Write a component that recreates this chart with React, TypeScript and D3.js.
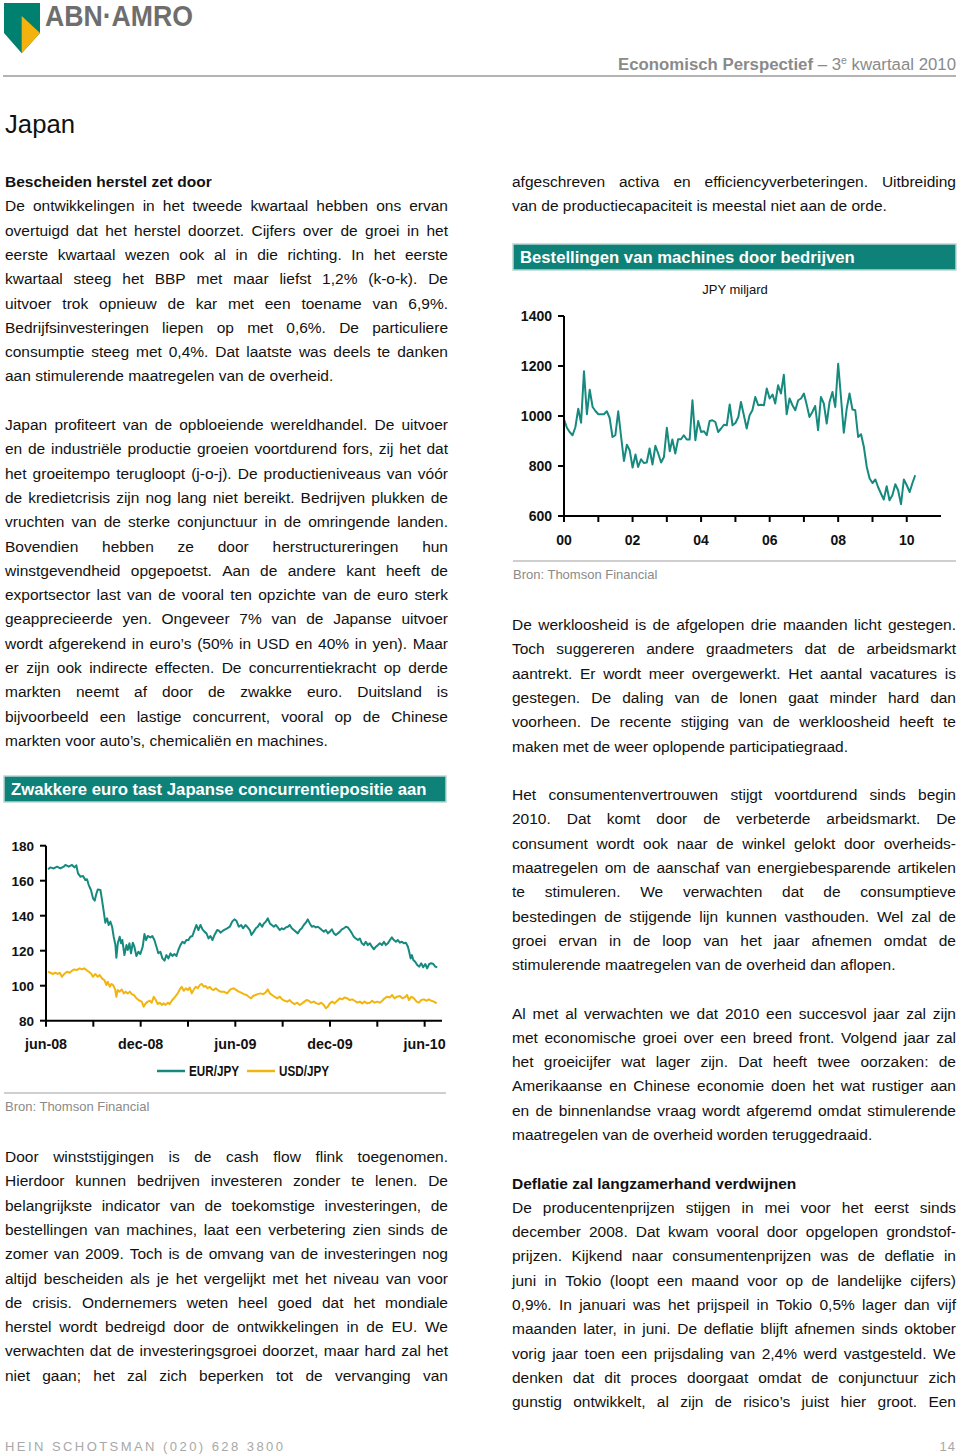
import React from 'react';
import * as d3 from 'd3';

// ---------------- DATA ----------------
// Machine orders, JPY bn, monthly from Jan 2000 to Apr 2010
const machineOrders: number[] = [
  987, 953, 936, 923, 955, 1029, 973, 1179, 1007, 1105, 1036, 1020,
  1007, 1007, 1007, 1019, 993, 916, 923, 1019, 916, 820, 885, 863,
  794, 846, 796, 827, 812, 814, 870, 806, 881, 850, 814, 836,
  953, 859, 906, 850, 907, 907, 923, 906, 906, 1063, 903, 980,
  936, 939, 923, 980, 983, 976, 936, 950, 965, 963, 1046, 963,
  972, 996, 1056, 1003, 950, 1003, 1023, 1076, 1043, 1045, 1043, 1110,
  1070, 1086, 1050, 1123, 1090, 1165, 1007, 1070, 1043, 1023, 1063, 1070,
  1090, 1043, 996, 1016, 1040, 943, 1076, 1050, 970, 1056, 1096, 1036,
  1209, 1070, 933, 1029, 1090, 1026, 1023, 916, 927, 876, 796, 750,
  732, 746, 716, 690, 666, 719, 663, 683, 727, 703, 647, 746,
  723, 696, 730, 763,
];
const machineYTicks = [600, 800, 1000, 1200, 1400];
const machineXLabels = ['00', '02', '04', '06', '08', '10'];

// FX rates: [months since June 2008, value]
const eurJpy: [number, number][] = [
  [0.13, 166.5], [0.27, 167.6], [0.49, 167], [0.7, 168], [0.91, 167], [1.12, 168], [1.23, 169], [1.44, 168],
  [1.65, 169], [1.8, 167.6], [1.92, 168.8], [2.03, 164.2], [2.18, 162.3], [2.35, 162.7], [2.49, 160.4], [2.6, 160.8],
  [2.71, 157.5], [2.85, 154.7], [2.98, 149.9], [3.09, 148.6], [3.17, 151.8], [3.28, 155], [3.45, 154.7], [3.55, 149],
  [3.66, 142.3], [3.76, 136], [3.87, 138.5], [3.97, 134.7], [4.08, 136.6], [4.19, 133.7], [4.29, 128], [4.4, 123.2],
  [4.46, 116], [4.55, 124.2], [4.67, 128], [4.76, 124.2], [4.84, 126.1], [4.97, 117.5], [5.1, 123.2], [5.18, 120.4],
  [5.29, 124.2], [5.39, 118.5], [5.5, 124.6], [5.6, 122.3], [5.73, 117], [5.86, 119.4], [5.98, 118.1], [6.13, 122.3],
  [6.24, 129.5], [6.34, 126.1], [6.45, 128.4], [6.62, 127.6], [6.74, 128.4], [6.87, 126.1], [7.0, 122.3], [7.12, 118.5],
  [7.25, 119.4], [7.38, 115.6], [7.51, 114.3], [7.63, 117.5], [7.76, 115.6], [7.89, 118.5], [8.01, 117], [8.14, 118.1],
  [8.27, 117], [8.39, 120.4], [8.52, 123.2], [8.65, 125.1], [8.77, 124.2], [8.9, 126.1], [9.03, 126.1], [9.15, 128],
  [9.28, 128.4], [9.41, 131.8], [9.53, 134.7], [9.66, 131.8], [9.79, 134.7], [9.92, 132.2], [10.04, 130.9], [10.17, 129.9],
  [10.3, 127], [10.42, 128.4], [10.55, 126.1], [10.68, 129], [10.85, 131.8], [10.97, 131.4], [11.06, 130.3], [11.27, 131.8],
  [11.48, 132.8], [11.65, 133.7], [11.8, 136.6], [11.94, 137.9], [12.07, 137.1], [12.22, 133.7], [12.37, 134.7], [12.49, 132.8],
  [12.64, 134.7], [12.75, 133.7], [12.92, 131.8], [13.02, 129], [13.17, 130.9], [13.3, 132.8], [13.42, 133.7], [13.55, 135.6],
  [13.7, 133.7], [13.81, 135.6], [13.93, 136.6], [14.06, 138.5], [14.19, 135.6], [14.31, 134.7], [14.44, 133.7], [14.56, 134.7],
  [14.69, 133.3], [14.82, 131.8], [14.95, 132.8], [15.07, 132.2], [15.2, 133.3], [15.33, 133.7], [15.45, 134.7], [15.58, 132.8],
  [15.71, 131.8], [15.83, 130.9], [15.96, 129.9], [16.09, 131.8], [16.21, 132.8], [16.34, 134.7], [16.47, 136], [16.59, 137.9],
  [16.72, 135.6], [16.85, 133.7], [16.97, 134.1], [17.1, 133.3], [17.23, 133.7], [17.36, 132.8], [17.48, 131.8], [17.61, 130.9],
  [17.74, 131.8], [17.86, 129.9], [17.99, 130.9], [18.12, 132.2], [18.25, 129.9], [18.37, 129], [18.5, 129.9], [18.63, 130.9],
  [18.75, 132.2], [18.88, 132.8], [19.01, 133.7], [19.13, 133.3], [19.26, 131.8], [19.39, 129.9], [19.51, 128], [19.64, 127],
  [19.77, 126.1], [19.89, 127], [20.02, 124.2], [20.15, 123.2], [20.27, 125.1], [20.4, 123.2], [20.53, 124.2], [20.66, 122.3],
  [20.78, 120.8], [20.91, 122.3], [21.04, 123.2], [21.16, 124.2], [21.29, 123.2], [21.42, 125.1], [21.54, 123.2], [21.67, 124.2],
  [21.8, 126.1], [21.92, 127.6], [22.05, 126.1], [22.18, 125.1], [22.3, 126.1], [22.43, 124.6], [22.56, 125.1], [22.68, 124.2],
  [22.81, 124.6], [22.94, 122.3], [23.02, 119.4], [23.11, 115.6], [23.19, 117.5], [23.28, 114.7], [23.4, 113.7], [23.53, 111.8],
  [23.66, 110.9], [23.78, 112.8], [23.91, 110.5], [24.04, 112.4], [24.16, 109.9], [24.29, 112.4], [24.42, 112.8], [24.55, 112.4],
  [24.67, 110.9], [24.8, 110.5],
];
const usdJpy: [number, number][] = [
  [0.13, 108], [0.27, 107.4], [0.44, 106.7], [0.59, 107.4], [0.74, 106.7], [0.87, 107.4], [1.01, 105.1], [1.16, 106.7],
  [1.33, 108], [1.5, 107.4], [1.65, 108.6], [1.8, 109.3], [1.97, 109], [2.14, 109.9], [2.28, 109.3], [2.43, 109.9],
  [2.56, 109], [2.71, 108], [2.85, 107], [2.98, 105.1], [3.13, 106.7], [3.28, 105.1], [3.4, 106.1], [3.55, 104.2],
  [3.7, 103.2], [3.83, 100.4], [3.91, 102.3], [4.04, 99.4], [4.14, 101], [4.25, 100.4], [4.38, 97.9], [4.46, 93.7],
  [4.55, 97.5], [4.67, 96.6], [4.8, 97.9], [4.93, 95.6], [5.05, 96.6], [5.18, 95.6], [5.31, 96.6], [5.43, 95.2],
  [5.56, 94.7], [5.69, 93.3], [5.81, 92.2], [5.94, 91.4], [6.07, 90.9], [6.19, 88], [6.32, 89.9], [6.45, 90.9],
  [6.58, 91.4], [6.7, 90.3], [6.83, 93.7], [6.96, 91.8], [7.08, 89.5], [7.21, 90.3], [7.34, 89], [7.46, 89.9],
  [7.59, 89], [7.72, 90.3], [7.84, 89.5], [7.97, 91.4], [8.1, 92.8], [8.22, 94.1], [8.35, 95.6], [8.48, 97.9],
  [8.6, 99.4], [8.73, 97.1], [8.86, 98.5], [8.99, 97.5], [9.11, 99], [9.24, 95.6], [9.37, 97.9], [9.49, 99.4],
  [9.62, 98.5], [9.75, 100.4], [9.87, 101], [10.0, 99.4], [10.13, 99.8], [10.25, 98.5], [10.38, 99.4], [10.51, 97.9],
  [10.63, 97.5], [10.76, 98.5], [10.89, 97.5], [11.06, 96.6], [11.27, 96.6], [11.48, 95.6], [11.69, 97.9], [11.9, 98.5],
  [12.07, 97.5], [12.22, 96.6], [12.37, 96], [12.54, 95.2], [12.71, 94.7], [12.85, 93.7], [13.0, 92.8], [13.13, 94.1],
  [13.28, 94.7], [13.42, 95.2], [13.59, 95.6], [13.76, 95.2], [13.91, 96], [14.06, 97.9], [14.19, 95.6], [14.33, 94.7],
  [14.48, 93.7], [14.65, 92.8], [14.82, 93.7], [14.97, 92.2], [15.12, 91.4], [15.29, 90.9], [15.45, 91.8], [15.6, 90.3],
  [15.75, 89.5], [15.92, 90.3], [16.09, 89], [16.24, 89.9], [16.38, 90.9], [16.51, 91.8], [16.66, 91.4], [16.81, 90.3],
  [16.97, 90.9], [17.14, 89.9], [17.29, 89.5], [17.44, 90.3], [17.61, 89], [17.74, 87.1], [17.86, 88], [17.99, 89.9],
  [18.14, 90.9], [18.29, 89.9], [18.46, 91.4], [18.63, 92.8], [18.77, 92.2], [18.92, 93.3], [19.09, 92.8], [19.26, 91.8],
  [19.41, 92.2], [19.56, 91.4], [19.73, 90.3], [19.89, 90.9], [20.04, 89.9], [20.19, 90.9], [20.36, 89.9], [20.53, 90.3],
  [20.67, 91.4], [20.82, 90.3], [20.99, 90.9], [21.16, 90.3], [21.31, 91.4], [21.46, 92.8], [21.63, 93.7], [21.8, 93.3],
  [21.94, 94.7], [22.09, 92.8], [22.26, 93.7], [22.43, 94.1], [22.58, 92.8], [22.73, 93.3], [22.89, 94.7], [23.0, 91.8],
  [23.15, 93.7], [23.32, 92.8], [23.49, 90.9], [23.64, 90.3], [23.78, 91.8], [23.95, 92.2], [24.12, 91.4], [24.27, 92.2],
  [24.42, 91.4], [24.59, 90.9], [24.76, 89.9],
];
const fxYTicks = [80, 100, 120, 140, 160, 180];
const fxXTickMonths = [0, 3, 6, 9, 12, 15, 18, 21, 24];
const fxXLabels: [number, string][] = [[0, 'jun-08'], [6, 'dec-08'], [12, 'jun-09'], [18, 'dec-09'], [24, 'jun-10']];
const fxSeriesNames = ['EUR/JPY', 'USD/JPY'];

// ---------------- TEXT ----------------
const leftP1 = [
  'De ontwikkelingen in het tweede kwartaal hebben ons ervan',
  'overtuigd dat het herstel doorzet. Cijfers over de groei in het',
  'eerste kwartaal wezen ook al in die richting. In het eerste',
  'kwartaal steeg het BBP met maar liefst 1,2% (k-o-k). De',
  'uitvoer trok opnieuw de kar met een toename van 6,9%.',
  'Bedrijfsinvesteringen liepen op met 0,6%. De particuliere',
  'consumptie steeg met 0,4%. Dat laatste was deels te danken',
  'aan stimulerende maatregelen van de overheid.',
];
const leftP2 = [
  'Japan profiteert van de opbloeiende wereldhandel. De uitvoer',
  'en de industriële productie groeien voortdurend fors, zij het dat',
  'het groeitempo terugloopt (j-o-j). De productieniveaus van vóór',
  'de kredietcrisis zijn nog lang niet bereikt. Bedrijven plukken de',
  'vruchten van de sterke conjunctuur in de omringende landen.',
  'Bovendien hebben ze door herstructureringen hun',
  'winstgevendheid opgepoetst. Aan de andere kant heeft de',
  'exportsector last van de vooral ten opzichte van de euro sterk',
  'geapprecieerde yen. Ongeveer 7% van de Japanse uitvoer',
  'wordt afgerekend in euro’s (50% in USD en 40% in yen). Maar',
  'er zijn ook indirecte effecten. De concurrentiekracht op derde',
  'markten neemt af door de zwakke euro. Duitsland is',
  'bijvoorbeeld een lastige concurrent, vooral op de Chinese',
  'markten voor auto’s, chemicaliën en machines.',
];
const leftP3 = [
  'Door winststijgingen is de cash flow flink toegenomen.',
  'Hierdoor kunnen bedrijven investeren zonder te lenen. De',
  'belangrijkste indicator van de toekomstige investeringen, de',
  'bestellingen van machines, laat een verbetering zien sinds de',
  'zomer van 2009. Toch is de omvang van de investeringen nog',
  'altijd bescheiden als je het vergelijkt met het niveau van voor',
  'de crisis. Ondernemers weten heel goed dat het mondiale',
  'herstel wordt bedreigd door de ontwikkelingen in de EU. We',
  'verwachten dat de investeringsgroei doorzet, maar hard zal het',
  'niet gaan; het zal zich beperken tot de vervanging van',
];
const rightP1 = [
  'afgeschreven activa en efficiencyverbeteringen. Uitbreiding',
  'van de productiecapaciteit is meestal niet aan de orde.',
];
const rightP2 = [
  'De werkloosheid is de afgelopen drie maanden licht gestegen.',
  'Toch suggereren andere graadmeters dat de arbeidsmarkt',
  'aantrekt. Er wordt meer overgewerkt. Het aantal vacatures is',
  'gestegen. De daling van de lonen gaat minder hard dan',
  'voorheen. De recente stijging van de werkloosheid heeft te',
  'maken met de weer oplopende participatiegraad.',
];
const rightP3 = [
  'Het consumentenvertrouwen stijgt voortdurend sinds begin',
  '2010. Dat komt door de verbeterde arbeidsmarkt. De',
  'consument wordt ook naar de winkel gelokt door overheids-',
  'maatregelen om de aanschaf van energiebesparende artikelen',
  'te stimuleren. We verwachten dat de consumptieve',
  'bestedingen de stijgende lijn kunnen vasthouden. Wel zal de',
  'groei ervan in de loop van het jaar afnemen omdat de',
  'stimulerende maatregelen van de overheid dan aflopen.',
];
const rightP4 = [
  'Al met al verwachten we dat 2010 een succesvol jaar zal zijn',
  'met economische groei over een breed front. Volgend jaar zal',
  'het groeicijfer wat lager zijn. Dat heeft twee oorzaken: de',
  'Amerikaanse en Chinese economie doen het wat rustiger aan',
  'en de binnenlandse vraag wordt afgeremd omdat stimulerende',
  'maatregelen van de overheid worden teruggedraaid.',
];
const rightP5 = [
  'De producentenprijzen stijgen in mei voor het eerst sinds',
  'december 2008. Dat kwam vooral door opgelopen grondstof-',
  'prijzen. Kijkend naar consumentenprijzen was de deflatie in',
  'juni in Tokio (loopt een maand voor op de landelijke cijfers)',
  '0,9%. In januari was het prijspeil in Tokio 0,5% lager dan vijf',
  'maanden later, in juni. De deflatie blijft afnemen sinds oktober',
  'vorig jaar toen een prijsdaling van 2,4% werd vastgesteld. We',
  'denken dat dit proces doorgaat omdat de conjunctuur zich',
  'gunstig ontwikkelt, al zijn de risico’s juist hier groot. Een',
];

// ---------------- STYLE ----------------
const FONT = "'Liberation Sans', Arial, Helvetica, sans-serif";
const BODY_SIZE = 15.5;
const LH = 24.3;
const TEAL = '#0e8178';
const LINE_TEAL = '#168a7e';
const YELLOW = '#f2b50f';
const GREY = '#8a8a8a';

let measureCtx: CanvasRenderingContext2D | null = null;
function textWidth(s: string, font: string): number {
  if (!measureCtx) measureCtx = document.createElement('canvas').getContext('2d');
  if (!measureCtx) return s.length * 7;
  measureCtx.font = font;
  return measureCtx.measureText(s).width;
}
const bodyFont = `normal ${BODY_SIZE}px ${FONT}`;

function Para({ lines, x, y, width, justifyLast = false }: { lines: string[]; x: number; y: number; width: number; justifyLast?: boolean }) {
  return (
    <g fontFamily={FONT} fontSize={BODY_SIZE} fill="#111">
      {lines.map((ln, i) => {
        const yy = y + i * LH;
        const justify = i < lines.length - 1 || justifyLast;
        if (!justify) return <text key={i} x={x} y={yy}>{ln}</text>;
        const words = ln.split(' ');
        const ws = words.map((w) => textWidth(w, bodyFont));
        const total = ws.reduce((a, b) => a + b, 0);
        const gap = (width - total) / Math.max(1, words.length - 1);
        let cx = x;
        return (
          <text key={i} y={yy}>
            {words.map((w, j) => {
              const px = cx;
              cx += ws[j] + gap;
              return <tspan key={j} x={px}>{w}</tspan>;
            })}
          </text>
        );
      })}
    </g>
  );
}

function TitleBar({ x, y, w, h, text }: { x: number; y: number; w: number; h: number; text: string }) {
  return (
    <g>
      <rect x={x} y={y} width={w} height={h} fill={TEAL} stroke="#b9d6d2" strokeWidth={1.5} />
      <text x={x + 7} y={y + h / 2 + 6} fill="#fff" fontFamily={FONT} fontWeight="bold" fontSize={16.7}>{text}</text>
    </g>
  );
}

function MachineChart() {
  const x = d3.scaleTime().domain([new Date(2000, 0, 1), new Date(2011, 0, 1)]).range([564, 941]);
  const y = d3.scaleLinear().domain([600, 1400]).range([516, 316]);
  const line = d3.line<number>().x((_, i) => x(new Date(2000, i, 1))).y((d) => y(d));
  const years = d3.range(2000, 2011).map((yr) => new Date(yr, 0, 1));
  const [y0, y1] = y.range();
  return (
    <g fontFamily={FONT}>
      <TitleBar x={513} y={244} w={443} h={26} text="Bestellingen van machines door bedrijven" />
      <text x={735} y={294} textAnchor="middle" fontSize={13} fill="#111">JPY miljard</text>
      <path d={line(machineOrders) || ''} fill="none" stroke={LINE_TEAL} strokeWidth={2} strokeLinejoin="round" />
      <line x1={x.range()[0]} x2={x.range()[0]} y1={y1} y2={y0 + 1} stroke="#000" strokeWidth={2} />
      <line x1={x.range()[0]} x2={x.range()[1]} y1={y0} y2={y0} stroke="#000" strokeWidth={2} />
      {machineYTicks.map((t) => (
        <g key={t}>
          <line x1={x.range()[0] - 6} x2={x.range()[0]} y1={y(t)} y2={y(t)} stroke="#000" strokeWidth={2} />
          <text x={552} y={y(t) + 5} textAnchor="end" fontSize={14} fontWeight="bold" fill="#111">{t}</text>
        </g>
      ))}
      {years.map((d, i) => (
        <g key={i}>
          <line x1={x(d)} x2={x(d)} y1={y0} y2={y0 + 6} stroke="#000" strokeWidth={2} />
        </g>
      ))}
      {machineXLabels.map((lab, i) => (
        <text key={lab} x={x(new Date(2000 + i * 2, 0, 1))} y={545} textAnchor="middle" fontSize={14} fontWeight="bold" fill="#111">{lab}</text>
      ))}
      <line x1={513} x2={956} y1={561} y2={561} stroke="#cfcfcf" strokeWidth={2} />
      <text x={513} y={579} fontSize={13} fill={GREY}>Bron: Thomson Financial</text>
    </g>
  );
}

function FxChart() {
  const x = d3.scaleLinear().domain([0, 25.1]).range([46, 442]);
  const y = d3.scaleLinear().domain([80, 180]).range([1020.7, 845.7]);
  const line = d3.line<[number, number]>().x((d) => x(d[0])).y((d) => y(d[1]));
  const [y0, y1] = y.range();
  const colors = [LINE_TEAL, YELLOW];
  return (
    <g fontFamily={FONT}>
      <TitleBar x={4} y={776} w={442} h={26} text="Zwakkere euro tast Japanse concurrentiepositie aan" />
      <path d={line(usdJpy) || ''} fill="none" stroke={YELLOW} strokeWidth={2} strokeLinejoin="round" />
      <path d={line(eurJpy) || ''} fill="none" stroke={LINE_TEAL} strokeWidth={2} strokeLinejoin="round" />
      <line x1={46} x2={46} y1={y1} y2={y0 + 1} stroke="#000" strokeWidth={2} />
      <line x1={46} x2={x.range()[1]} y1={y0} y2={y0} stroke="#000" strokeWidth={2} />
      {fxYTicks.map((t) => (
        <g key={t}>
          <line x1={40} x2={46} y1={y(t)} y2={y(t)} stroke="#000" strokeWidth={2} />
          <text x={34} y={y(t) + 5} textAnchor="end" fontSize={13.5} fontWeight="bold" fill="#111">{t}</text>
        </g>
      ))}
      {fxXTickMonths.map((m) => (
        <line key={m} x1={x(m)} x2={x(m)} y1={y0} y2={y0 + 6} stroke="#000" strokeWidth={2} />
      ))}
      {fxXLabels.map(([m, lab]) => (
        <text key={lab} x={x(m)} y={1049} textAnchor="middle" fontSize={14.3} fontWeight="bold" fill="#111">{lab}</text>
      ))}
      {fxSeriesNames.map((name, i) => {
        const lx = 157 + i * 90;
        return (
          <g key={name}>
            <line x1={lx} x2={lx + 28} y1={1071} y2={1071} stroke={colors[i]} strokeWidth={2.5} />
            <text x={lx + 32} y={1076} fontSize={14} fontWeight="bold" fill="#111" textLength={50} lengthAdjust="spacingAndGlyphs">{name}</text>
          </g>
        );
      })}
      <line x1={4} x2={446} y1={1093} y2={1093} stroke="#cfcfcf" strokeWidth={2} />
      <text x={5} y={1111} fontSize={13} fill={GREY}>Bron: Thomson Financial</text>
    </g>
  );
}

export default function App() {
  return (
    <svg width={960} height={1455} style={{ position: 'absolute', left: 0, top: 0, background: '#fff' }}>
      <rect x={0} y={0} width={960} height={1455} fill="#fff" />
      {/* Logo */}
      <polygon points="4,3 40,3 40,33 21.7,53.3 4,33" fill="#00806f" />
      <polygon points="21.7,16 40,33 21.7,53.3" fill="#f4b20f" />
      <text x={45} y={26} fontFamily={FONT} fontWeight="bold" fontSize={29} fill="#6e6e6e" textLength={148} lengthAdjust="spacingAndGlyphs">ABN·AMRO</text>
      {/* Header */}
      <line x1={3} x2={956} y1={76} y2={76} stroke="#9a9a9a" strokeWidth={1.5} />
      <text x={956} y={70} textAnchor="end" fontFamily={FONT} fontSize={16.8} fill={GREY}>
        <tspan fontWeight="bold">Economisch Perspectief</tspan>
        <tspan> – 3</tspan>
        <tspan dy={-6} fontSize={10.5}>e</tspan>
        <tspan dy={6}> kwartaal 2010</tspan>
      </text>
      <text x={5} y={133} fontFamily={FONT} fontSize={25.7} fill="#111">Japan</text>

      {/* Left column */}
      <text x={5} y={187} fontFamily={FONT} fontSize={BODY_SIZE} fontWeight="bold" fill="#111">Bescheiden herstel zet door</text>
      <Para lines={leftP1} x={5} y={187 + LH} width={443} />
      <Para lines={leftP2} x={5} y={430} width={443} />
      <FxChart />
      <Para lines={leftP3} x={5} y={1162} width={443} justifyLast />

      {/* Right column */}
      <Para lines={rightP1} x={512} y={187} width={444} />
      <MachineChart />
      <Para lines={rightP2} x={512} y={630} width={444} />
      <Para lines={rightP3} x={512} y={800} width={444} />
      <Para lines={rightP4} x={512} y={1018.5} width={444} />
      <text x={512} y={1188.5} fontFamily={FONT} fontSize={BODY_SIZE} fontWeight="bold" fill="#111">Deflatie zal langzamerhand verdwijnen</text>
      <Para lines={rightP5} x={512} y={1188.5 + LH} width={444} justifyLast />

      {/* Footer */}
      <text x={5} y={1451} fontFamily={FONT} fontSize={13} fill="#a8a8a8" textLength={278} lengthAdjust="spacing">HEIN SCHOTSMAN (020) 628 3800</text>
      <text x={956} y={1451} textAnchor="end" fontFamily={FONT} fontSize={13} fill="#a8a8a8" letterSpacing={1}>14</text>
    </svg>
  );
}
